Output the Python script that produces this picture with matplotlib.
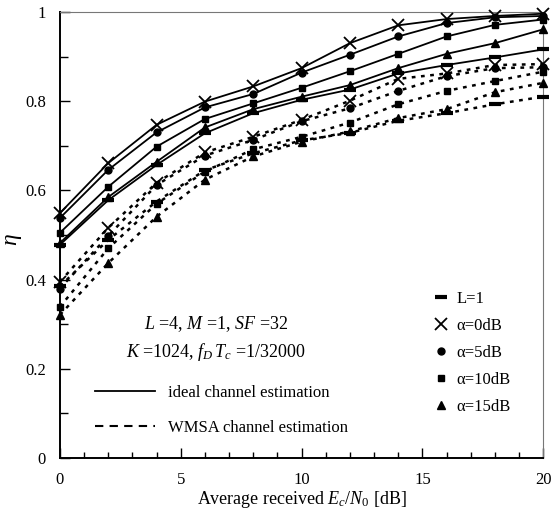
import numpy as np
import matplotlib
matplotlib.use("Agg")
import matplotlib.pyplot as plt
from matplotlib.lines import Line2D
from matplotlib.ticker import MultipleLocator

plt.rcParams['font.family'] = ['Liberation Serif', 'DejaVu Serif']
plt.rcParams['mathtext.fontset'] = 'custom'
plt.rcParams['mathtext.rm'] = 'Liberation Serif'
plt.rcParams['mathtext.it'] = 'Liberation Serif:italic'

snr = [0, 2, 4, 6, 8, 10, 12, 14, 16, 18, 20]

# ideal channel estimation (solid)
ideal_L1 = [0.478, 0.578, 0.657, 0.728, 0.773, 0.803, 0.826, 0.862, 0.881, 0.898, 0.916]
ideal_a0 = [0.549, 0.661, 0.747, 0.799, 0.833, 0.874, 0.930, 0.970, 0.984, 0.991, 0.996]
ideal_a5 = [0.538, 0.646, 0.730, 0.786, 0.816, 0.864, 0.904, 0.945, 0.975, 0.988, 0.991]
ideal_a10 = [0.505, 0.608, 0.698, 0.760, 0.795, 0.830, 0.867, 0.906, 0.945, 0.971, 0.983]
ideal_a15 = [0.482, 0.585, 0.664, 0.741, 0.782, 0.810, 0.836, 0.874, 0.906, 0.930, 0.961]

# WMSA channel estimation (dashed)
wmsa_L1 = [0.385, 0.489, 0.575, 0.645, 0.683, 0.712, 0.729, 0.756, 0.773, 0.793, 0.810]
wmsa_a0 = [0.395, 0.516, 0.617, 0.685, 0.720, 0.758, 0.801, 0.850, 0.862, 0.881, 0.883]
wmsa_a5 = [0.380, 0.498, 0.612, 0.678, 0.713, 0.755, 0.784, 0.823, 0.856, 0.874, 0.876]
wmsa_a10 = [0.339, 0.470, 0.570, 0.642, 0.692, 0.720, 0.752, 0.793, 0.823, 0.845, 0.866]
wmsa_a15 = [0.321, 0.437, 0.541, 0.624, 0.676, 0.709, 0.732, 0.762, 0.782, 0.820, 0.841]

labels = ["L=1", "α=0dB", "α=5dB", "α=10dB", "α=15dB"]
yticks = [0, 0.2, 0.4, 0.6, 0.8, 1]
yticklabels = ['0', '0.2', '0.4', '0.6', '0.8', '1']
markers = ['_', 'x', 'o', 's', '^']
msizes = [8, 9, 5, 5, 6]
mews = [3, 1.3, 1, 1, 1]

ideal = [ideal_L1, ideal_a0, ideal_a5, ideal_a10, ideal_a15]
wmsa = [wmsa_L1, wmsa_a0, wmsa_a5, wmsa_a10, wmsa_a15]

fig = plt.figure(figsize=(5.6, 5.19), dpi=100)
ax = fig.add_axes([0.107, 0.1175, 0.863, 0.8595])

for ys, m, ms, mew in zip(ideal, markers, msizes, mews):
    ax.plot(snr, ys, color='black', lw=1.3, marker=m, ms=ms, mew=mew, clip_on=False, zorder=3)
for ys, m, ms, mew in zip(wmsa, markers, msizes, mews):
    ax.plot(snr, ys, color='black', lw=1.8, ls=(0, (1.5, 2.2)), marker=m, ms=ms, mew=mew,
            clip_on=False, zorder=3)

ax.set_xlim(0, 20)
ax.set_ylim(0, 1)
ax.xaxis.set_major_locator(MultipleLocator(5))
ax.xaxis.set_minor_locator(MultipleLocator(1))
ax.set_yticks(yticks)
ax.set_yticklabels(yticklabels)
ax.yaxis.set_minor_locator(MultipleLocator(0.1))
ax.tick_params(which='both', direction='in', top=False, right=False, labelsize=12, pad=10)
ax.tick_params(which='major', length=7, width=1)
ax.tick_params(which='minor', length=4, width=1)
ax.tick_params(axis='y', which='minor', length=6)

ax.spines['left'].set_linewidth(1.4)
ax.spines['bottom'].set_linewidth(1.4)
ax.spines['top'].set_color('#777777')
ax.spines['right'].set_color('#777777')

ax.set_xlabel("Average received $E_c/N_{0}$ [dB]", fontsize=13, labelpad=1)
ax.set_ylabel(r"$\eta$", fontsize=17)
ax.yaxis.set_label_coords(-0.075, 0.49)

ax.text(0.323, 0.301, "$L$ =4, $M$ =1, $SF$ =32", transform=ax.transAxes,
        ha='center', va='center', fontsize=13)
ax.text(0.323, 0.238, "$K$ =1024, $f_D\\,T_c$ =1/32000", transform=ax.transAxes,
        ha='center', va='center', fontsize=13)

line_handles = [Line2D([], [], color='black', lw=1.3),
                Line2D([], [], color='black', lw=1.5, ls=(0, (4, 3)))]
leg1 = ax.legend(line_handles, ["ideal channel estimation", "WMSA channel estimation"],
                 loc='upper left', bbox_to_anchor=(0.072, 0.163), frameon=False,
                 borderpad=0, borderaxespad=0, handlelength=3.6, handletextpad=0.8,
                 labelspacing=1.1, fontsize=12)
ax.add_artist(leg1)

mark_handles = [Line2D([], [], color='black', ls='none', marker=m, ms=ms, mew=mew)
                for m, ms, mew in zip(markers, msizes, mews)]
ax.legend(mark_handles, labels, loc='upper left', bbox_to_anchor=(0.775, 0.374),
          frameon=False, borderpad=0, borderaxespad=0, handlelength=0.8,
          handletextpad=0.5, labelspacing=0.66, fontsize=12)

fig.savefig("out.png", dpi=100)
